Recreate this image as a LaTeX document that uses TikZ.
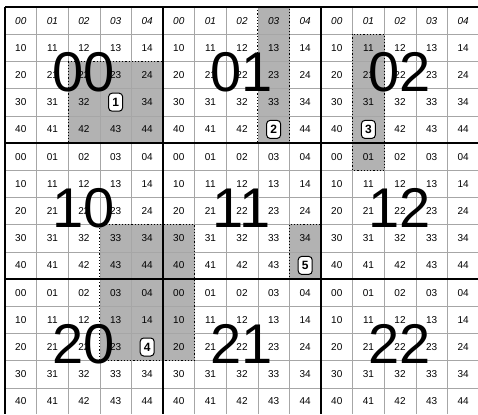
\documentclass[tikz,border=0pt]{standalone}
\usepackage{fontspec}
\setmainfont{Liberation Sans}

\begin{document}
\begin{tikzpicture}[x=1pt, y=-1pt,
    every node/.style={font=\fontsize{10}{10}\selectfont},
    shaded/.style={fill=gray!60},
    rim/.style={draw=black, dotted, line width=1.2pt},
    big/.style={font=\fontsize{56}{56}\selectfont},
    tag/.style={draw, fill=white, rounded corners=3.5pt, line width=1pt, inner sep=1pt,
                minimum width=14pt, minimum height=18pt, font=\fontsize{12}{12}\selectfont\bfseries}]
    \useasboundingbox (0,0) rectangle (478,414);
    % shaded cell groups
    \foreach \ax/\ay/\bx/\by in {68.2/61.4/163/143, 257.8/7/289.4/143, 352.6/34.2/384.2/170.2,
                                 99.8/224.6/194.6/360.6, 289.4/224.6/321/279}
        \path[shaded] (\ax,\ay) rectangle (\bx,\by);
    % cell lines
    \foreach \i in {1,...,14} {
        \draw[gray!70, line width=0.5pt] ({5+31.6*\i},7) -- ({5+31.6*\i},414);
        \draw[gray!70, line width=0.5pt] (5,{7+27.2*\i}) -- (478,{7+27.2*\i});
    }
    \foreach \ax/\ay/\bx/\by in {68.2/61.4/163/143, 257.8/7/289.4/143, 352.6/34.2/384.2/170.2,
                                 99.8/224.6/194.6/360.6, 289.4/224.6/321/279}
        \path[rim] (\ax,\ay) rectangle (\bx,\by);
    % block lines
    \foreach \k in {0,1,2} {
        \draw[line width=1.8pt] ({5+158*\k},7) -- ({5+158*\k},414);
        \draw[line width=1.8pt] (5,{7+136*\k}) -- (478,{7+136*\k});
    }
    % cell labels
    \foreach \bi in {0,1,2}
    \foreach \bj in {0,1,2}
    \foreach \r in {0,...,4}
    \foreach \c in {0,...,4} {
        \ifnum\bi\r=00
            \node[font=\fontsize{10}{10}\selectfont\itshape] (c\bi\bj-\r\c) at ({5+158*\bj+31.6*\c+15.8},{7+136*\bi+27.2*\r+13.6}) {\r\c};
        \else
            \node (c\bi\bj-\r\c) at ({5+158*\bj+31.6*\c+15.8},{7+136*\bi+27.2*\r+13.6}) {\r\c};
        \fi
    }
    % block numbers
    \foreach \bi in {0,1,2}
    \foreach \bj in {0,1,2}
        \node[big] (b\bi\bj) at ({5+158*\bj+79},{7+136*\bi+65}) {\bi\bj};
    % numbered tags
    \node[tag] (t1) at (c00-33) {1};
    \node[tag] (t2) at (c01-43) {2};
    \node[tag] (t3) at (c02-41) {3};
    \node[tag] (t4) at (c20-24) {4};
    \node[tag] (t5) at (c11-44) {5};
\end{tikzpicture}
\end{document}
